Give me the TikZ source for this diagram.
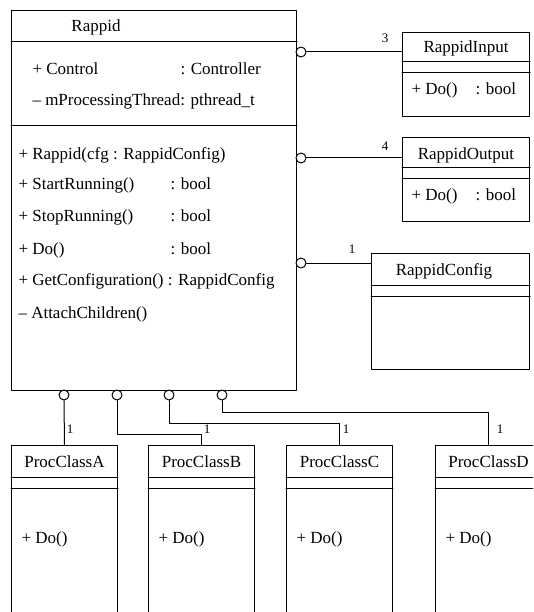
\documentclass[tikz,border=0pt]{standalone}
\usepackage{fontspec}
\setmainfont{Liberation Serif}
\usetikzlibrary{calc, positioning}

\begin{document}
\begin{tikzpicture}[line cap=round,line join=round,x=1pt,y=-1pt,
  every node/.style={font=\fontsize{17}{20}\selectfont},
  umlbox/.style={draw, line width=1pt, anchor=north west, inner sep=0pt},
  txt/.style={inner sep=0pt, anchor=base west},
  ball/.style={draw, line width=1pt, circle, inner sep=0pt, minimum size=10pt, fill=white},
  mult/.style={inner sep=0pt, font=\fontsize{13}{15}\selectfont},
  line width=1pt]
% page frame (the lower boxes are cut at the bottom)
\clip (0,0) rectangle (533,612);

% --- class boxes ---
\node[umlbox, minimum width=285pt, minimum height=380pt] (rappid) at (11,10) {};
\node[umlbox, minimum width=127pt, minimum height=84pt] (input) at (402,32) {};
\node[umlbox, minimum width=127pt, minimum height=84pt] (output) at (402,137) {};
\node[umlbox, minimum width=158pt, minimum height=116pt] (config) at (371,253) {};
\node[umlbox, minimum width=106pt, minimum height=200pt] (procA) at (11,445) {};
\node[umlbox, minimum width=106pt, minimum height=200pt] (procB) at (148,445) {};
\node[umlbox, minimum width=106pt, minimum height=200pt] (procC) at (286,445) {};
\node[umlbox, minimum width=106pt, minimum height=200pt] (procD) at (435,445) {};

% --- compartment lines ---
\draw (rappid.west |- 0,42) -- (rappid.east |- 0,42);
\draw (rappid.west |- 0,126) -- (rappid.east |- 0,126);
\draw (input.west |- 0,62) -- (input.east |- 0,62);
\draw (input.west |- 0,73) -- (input.east |- 0,73);
\draw (output.west |- 0,168) -- (output.east |- 0,168);
\draw (output.west |- 0,179) -- (output.east |- 0,179);
\draw (config.west |- 0,285) -- (config.east |- 0,285);
\draw (config.west |- 0,296) -- (config.east |- 0,296);
\foreach \p in {procA, procB, procC, procD} {
  \draw (\p.west |- 0,477.5) -- (\p.east |- 0,477.5);
  \draw (\p.west |- 0,488) -- (\p.east |- 0,488);
}

% --- Rappid ---
\node[inner sep=0pt, anchor=base] (rName) at (96,31.5) {Rappid};
\node[txt] (aCtl) at (32,74.5) {+ Control};
\node[txt] (aCtlT) at (180,74.5) {: Controller};
\node[txt] (aThr) at (32,105.5) {\textendash{} mProcessingThread: pthread\_t};
\node[txt] (oCtor) at (18,159.5) {+ Rappid(cfg : RappidConfig)};
\node[txt] (oStart) at (18,190) {+ StartRunning()};
\node[txt] (oStartT) at (170,190) {: bool};
\node[txt] (oStop) at (18,222) {+ StopRunning()};
\node[txt] (oStopT) at (170,222) {: bool};
\node[txt] (oDo) at (18,254) {+ Do()};
\node[txt] (oDoT) at (170,254) {: bool};
\node[txt] (oConf) at (18,285) {+ GetConfiguration() : RappidConfig};
\node[txt] (oAtt) at (18,318) {\textendash{} AttachChildren()};

% --- RappidInput, RappidOutput, RappidConfig ---
\node[inner sep=0pt, anchor=base] (iName) at (466,52.5) {RappidInput};
\node[txt] (iDo) at (411,94.5) {+ Do()};
\node[txt] (iDoT) at (475,94.5) {: bool};
\node[inner sep=0pt, anchor=base] (oName) at (466,159.5) {RappidOutput};
\node[txt] (uDo) at (411,200.5) {+ Do()};
\node[txt] (uDoT) at (475,200.5) {: bool};
\node[inner sep=0pt, anchor=base] (cName) at (444,275.5) {RappidConfig};

% --- ProcClassA..D ---
\foreach \p/\n in {procA/A, procB/B, procC/C, procD/D} {
  \node[inner sep=0pt, anchor=base] (\p Name) at (\p.north |- 0,467) {ProcClass\n};
  \node[txt] (\p Do) at ([xshift=10pt]\p.west |- 0,543.5) {+ Do()};
}

% --- aggregations on the right ---
\node[ball] (bIn) at (301,52) {};
\node[ball] (bOut) at (301,158) {};
\node[ball] (bConf) at (301,263) {};
\draw (bIn.east) -- (bIn -| input.west);
\draw (bOut.east) -- (bOut -| output.west);
\draw (bConf.east) -- (bConf -| config.west);
\node[mult] (mIn) at (385,38) {3};
\node[mult] (mOut) at (385,146) {4};
\node[mult] (mConf) at (352,249) {1};

% --- aggregations below ---
\node[ball] (bA) at (64,395) {};
\node[ball] (bB) at (117,395) {};
\node[ball] (bC) at (169,395) {};
\node[ball] (bD) at (222,395) {};
\draw (bA.south) -- (procA.north);
\draw (bB.south) |- ([yshift=11pt]procB.north) -- (procB.north);
\draw (bC.south) |- ([yshift=22pt]procC.north) -- (procC.north);
\draw (bD.south) |- ([yshift=33pt]procD.north) -- (procD.north);
\node[mult] (mA) at (70,429) {1};
\node[mult] (mB) at (207,429) {1};
\node[mult] (mC) at (346,429) {1};
\node[mult] (mD) at (500,429) {1};

\end{tikzpicture}
\end{document}
